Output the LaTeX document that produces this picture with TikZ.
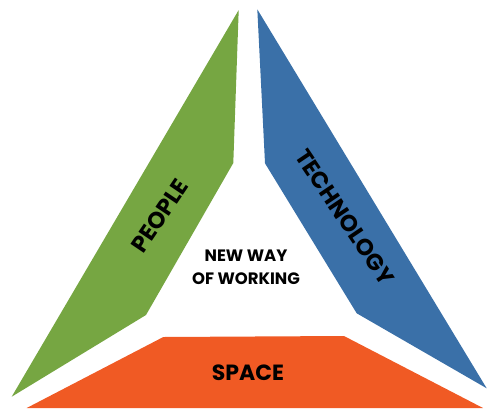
\documentclass[tikz,border=0pt]{standalone}
\usepackage{fontspec}
\setmainfont{Poppins}
\definecolor{pgreen}{RGB}{118,166,66}
\definecolor{pblue}{RGB}{58,112,168}
\definecolor{porange}{RGB}{240,90,36}
\tikzset{
  lbl/.style={font=\bfseries, text=black, inner sep=0pt},
}
\begin{document}
\begin{tikzpicture}[x=1pt,y=-1pt]
\useasboundingbox (0,0) rectangle (487,408);
% green (PEOPLE)
\fill[pgreen] (238.7,10) -- (233.3,163) -- (146,315) -- (11.7,396.7) -- cycle;
% blue (TECHNOLOGY)
\fill[pblue] (257.3,9.3) -- (265,163.3) -- (356.7,313.3) -- (486.7,388.3) -- cycle;
% orange (SPACE)
\fill[porange] (163.3,337) -- (344,336) -- (483,408) -- (26.7,408) -- cycle;
\node[lbl, font=\fontsize{23}{25}\selectfont\bfseries, rotate=56] (people) at (160,216) {PEOPLE};
\node[lbl, font=\fontsize{23}{25}\selectfont\bfseries, rotate=-56] (tech) at (345,217) {TECHNOLOGY};
\node[lbl, font=\fontsize{22}{24}\selectfont\bfseries] (space) at (248,373) {SPACE};
\node[lbl, font=\fontsize{16.5}{23}\selectfont\bfseries, align=center] (nwow) at (246,267) {NEW WAY\\OF WORKING};
\end{tikzpicture}
\end{document}
